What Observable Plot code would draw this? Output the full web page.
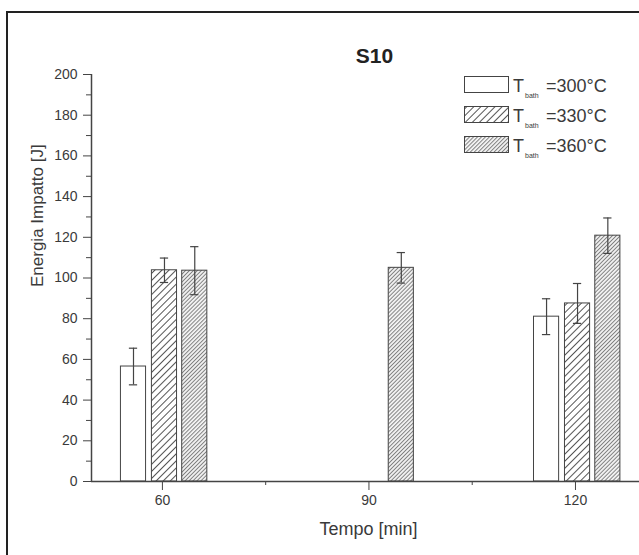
<!DOCTYPE html>
<html><head><meta charset="utf-8">
<script src="https://cdn.jsdelivr.net/npm/d3@7"></script>
<script src="https://cdn.jsdelivr.net/npm/@observablehq/plot@0.6"></script>
<style>
body{margin:0;background:#fff;}
#wrap{position:relative;width:639px;height:555px;overflow:hidden;}
#border{position:absolute;left:6px;top:11px;width:700px;height:700px;border-left:2px solid #222;border-top:2px solid #222;pointer-events:none;}
</style></head><body>
<div id="wrap"><div id="border"></div></div>
<script>
// ---- data ----
const times = [60, 90, 120];
const seriesNames = ["300", "330", "360"];
const values300 = [56.5, null, 81];
const errors300 = [9, null, 8.8];
const values330 = [103.8, null, 87.5];
const errors330 = [6, null, 9.8];
const values360 = [103.6, 105, 120.8];
const errors360 = [11.8, 7.5, 8.7];
const yTicks = [0, 20, 40, 60, 80, 100, 120, 140, 160, 180, 200];
const yMinorTicks = [10, 30, 50, 70, 90, 110, 130, 150, 170, 190];
const xTicks = [60, 90, 120];
const xMinorTicks = [75, 105];
const titleText = "S10";
const xLabel = "Tempo [min]";
const yLabel = "Energia Impatto [J]";

// ---- layout ----
const offsets = [-4.2, 0.3, 4.7];
const bw = 3.65;
const capHalf = 0.6;
const fills = ["white", "url(#h330)", "url(#h360)"];
const ink = "#444";
const textInk = "#3a3a3a";
const font = "'Liberation Sans', Arial, sans-serif";

const allValues = [values300, values330, values360];
const allErrors = [errors300, errors330, errors360];
const rowsBySeries = seriesNames.map((s, i) => {
  const rows = [];
  times.forEach((t, j) => {
    const v = allValues[i][j];
    if (v != null) rows.push({t, s, v, e: allErrors[i][j], x: t + offsets[i]});
  });
  return rows;
});
const allRows = rowsBySeries.flat();

const barMarks = rowsBySeries.map((rows, i) =>
  Plot.rect(rows, {x1: d => d.x - bw / 2, x2: d => d.x + bw / 2, y1: 0, y2: "v",
    fill: fills[i], stroke: ink, strokeWidth: 1}));

const plot = Plot.plot({
  width: 639, height: 555,
  marginTop: 74, marginBottom: 74, marginLeft: 91, marginRight: 0,
  style: {fontFamily: font, color: "#222", background: "transparent"},
  x: {domain: [49.7, 129.3]},
  y: {domain: [0, 200]},
  marks: [
    ...barMarks,
    Plot.ruleX(allRows, {x: "x", y1: d => d.v - d.e, y2: d => d.v + d.e, stroke: ink, strokeWidth: 1.2}),
    Plot.ruleY(allRows, {y: d => d.v + d.e, x1: d => d.x - capHalf, x2: d => d.x + capHalf, stroke: ink, strokeWidth: 1.2}),
    Plot.ruleY(allRows, {y: d => d.v - d.e, x1: d => d.x - capHalf, x2: d => d.x + capHalf, stroke: ink, strokeWidth: 1.2}),
    Plot.axisY(yTicks, {tickSize: 8, tickPadding: 6, fontSize: 14, label: null, stroke: ink, fill: textInk}),
    Plot.axisY(yMinorTicks, {tickSize: 5, tickFormat: () => "", label: null, stroke: ink}),
    Plot.axisX(xTicks, {tickSize: 9, tickPadding: 5, fontSize: 14, label: null, stroke: ink, fill: textInk}),
    Plot.axisX(xMinorTicks, {tickSize: 4, tickFormat: () => "", label: null, stroke: ink}),
    Plot.ruleX([49.7], {stroke: ink, strokeWidth: 1.5}),
    Plot.ruleY([0], {stroke: ink, strokeWidth: 1.5}),
    Plot.text([titleText], {text: d => d, frameAnchor: "top", dx: 9, dy: -26, fontSize: 21, fontWeight: "bold", fill: "#222"}),
    Plot.text([xLabel], {text: d => d, frameAnchor: "bottom", dx: 3, dy: 53, fontSize: 18, fill: textInk}),
    Plot.text([yLabel], {text: d => d, frameAnchor: "left", dx: -54, dy: 9, rotate: -90, fontSize: 17, fill: textInk})
  ]
});

// patterns
const svg = d3.select(plot);
const defs = svg.insert("defs", ":first-child");
const p1 = defs.append("pattern").attr("id", "h330").attr("patternUnits", "userSpaceOnUse")
  .attr("width", 5).attr("height", 5).attr("patternTransform", "rotate(45)");
p1.append("rect").attr("width", 5).attr("height", 5).attr("fill", "white");
p1.append("line").attr("x1", 0.5).attr("y1", 0).attr("x2", 0.5).attr("y2", 5).attr("stroke", "#555").attr("stroke-width", 1);
const p2 = defs.append("pattern").attr("id", "h360").attr("patternUnits", "userSpaceOnUse")
  .attr("width", 2.8).attr("height", 2.8).attr("patternTransform", "rotate(45)");
p2.append("rect").attr("width", 2.8).attr("height", 2.8).attr("fill", "#f2f2f2");
p2.append("line").attr("x1", 0.5).attr("y1", 0).attr("x2", 0.5).attr("y2", 2.8).attr("stroke", "#777").attr("stroke-width", 0.9);

// legend
const legendLabels = seriesNames.map(s => "=" + s + "°C");
const lg = svg.append("g").attr("font-family", font).attr("fill", textInk).attr("text-anchor", "start");
seriesNames.forEach((s, i) => {
  const y0 = 76 + i * 30;
  lg.append("rect").attr("x", 464.5).attr("y", y0 + 0.5).attr("width", 44).attr("height", 16)
    .attr("fill", fills[i]).attr("stroke", ink).attr("stroke-width", 1);
  lg.append("text").attr("x", 513).attr("y", y0 + 16).attr("font-size", 18).text("T");
  lg.append("text").attr("x", 525).attr("y", y0 + 22).attr("font-size", 7).text("bath");
  lg.append("text").attr("x", 546).attr("y", y0 + 16).attr("font-size", 18).text(legendLabels[i]);
});

document.getElementById("wrap").prepend(plot);
</script>
</body></html>
